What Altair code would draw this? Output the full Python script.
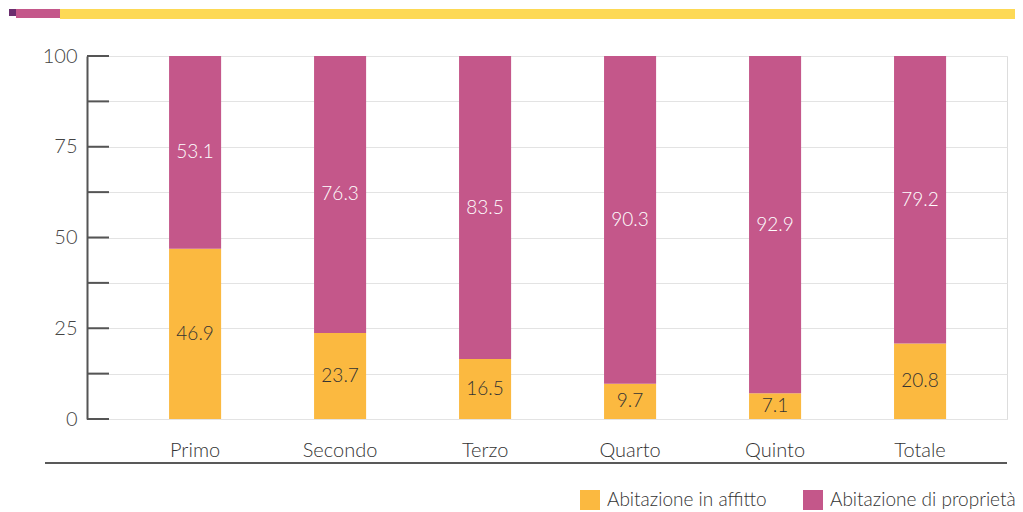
import altair as alt
import pandas as pd

categories = ["Primo", "Secondo", "Terzo", "Quarto", "Quinto", "Totale"]
affitto = [46.9, 23.7, 16.5, 9.7, 7.1, 20.8]
proprieta = [53.1, 76.3, 83.5, 90.3, 92.9, 79.2]
series = ["Abitazione in affitto", "Abitazione di proprietà"]
colors = ["#FBB940", "#C4578A"]
y_ticks = [0, 12.5, 25, 37.5, 50, 62.5, 75, 87.5, 100]

rows = []
for c, a, p in zip(categories, affitto, proprieta):
    rows.append({"cat": c, "series": series[0], "value": a, "ord": 0})
    rows.append({"cat": c, "series": series[1], "value": p, "ord": 1})
df = pd.DataFrame(rows)

FONT = "Lato"

xscale = alt.Scale(domain=categories, paddingInner=0.641, paddingOuter=0.493,
                   align=0.574, round=False)
yscale = alt.Scale(domain=[0, 100], nice=False, zero=True)

base = alt.Chart(df)

bars = base.mark_bar().encode(
    x=alt.X("cat:N", sort=categories, scale=xscale, title=None,
            axis=alt.Axis(domain=False, ticks=False, labelAngle=0, labelFontSize=20,
                          labelColor="#333333", labelPadding=21, labelFont=FONT,
                          labelFontWeight=300)),
    y=alt.Y("value:Q", stack="zero", scale=yscale, title=None,
            axis=alt.Axis(values=y_ticks, grid=True, gridColor="#E3E3E3", gridWidth=1,
                          ticks=False, domain=True, domainColor="#555555", domainWidth=2,
                          labelFontSize=20, labelColor="#444444", labelPadding=10,
                          labelFont=FONT, labelFontWeight=300,
                          labelExpr="datum.value % 25 == 0 ? datum.label : ''")),
    color=alt.Color("series:N", scale=alt.Scale(domain=series, range=colors),
                    legend=alt.Legend(title=None, orient="none", legendX=493, legendY=434,
                                      direction="horizontal", symbolType="square",
                                      symbolSize=400, symbolStrokeWidth=0,
                                      labelFontSize=19, labelColor="#333333",
                                      labelFont=FONT, labelFontWeight=300,
                                      columnPadding=36, labelOffset=7,
                                      labelLimit=400, padding=0)),
    order=alt.Order("ord:Q"),
)

labels = base.transform_stack(
    stack="value", groupby=["cat"], as_=["v0", "v1"], sort=[alt.SortField("ord")]
).transform_calculate(mid="(datum.v0 + datum.v1) / 2").mark_text(
    fontSize=19, font=FONT, fontWeight=300, baseline="middle", align="center"
).encode(
    x=alt.X("cat:N", sort=categories, scale=xscale),
    y=alt.Y("mid:Q", scale=yscale),
    text=alt.Text("value:Q", format=".1f"),
    color=alt.condition("datum.series == 'Abitazione in affitto'",
                        alt.value("#333333"), alt.value("#FFFFFF")),
)

tick_df = pd.DataFrame({"t": y_ticks})
ticks = alt.Chart(tick_df).mark_rule(color="#555555", strokeWidth=2).encode(
    y=alt.Y("t:Q", scale=yscale),
    x=alt.value(0),
    x2=alt.value(22),
)

one = alt.Data(values=[{}])
bottom_line = alt.Chart(one).mark_rule(color="#222222", strokeWidth=1.5).encode(
    x=alt.value(-42), x2=alt.value(920), y=alt.value(407)
)
deco_purple = alt.Chart(one).mark_rect(color="#6B2E6E").encode(
    x=alt.value(-78), x2=alt.value(-71), y=alt.value(-47), y2=alt.value(-40)
)
deco_pink = alt.Chart(one).mark_rect(color="#C4578A").encode(
    x=alt.value(-71), x2=alt.value(-27), y=alt.value(-47), y2=alt.value(-38)
)
deco_yellow = alt.Chart(one).mark_rect(color="#FDD955").encode(
    x=alt.value(-27), x2=alt.value(934), y=alt.value(-47), y2=alt.value(-37)
)

chart = alt.layer(
    bars, labels, ticks, bottom_line, deco_purple, deco_pink, deco_yellow
).properties(
    width=920, height=363,
    autosize=alt.AutoSizeParams(type="none"),
    padding={"left": 79, "top": 48, "right": 8, "bottom": 93},
).configure_view(stroke=None).configure(font=FONT)

chart.save("out.html", embed_options={"renderer": "svg", "actions": False})
